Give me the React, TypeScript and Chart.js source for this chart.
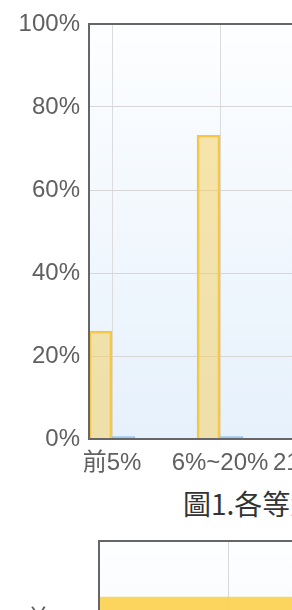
import React, { useEffect, useRef } from 'react';
import { Chart, registerables } from 'chart.js';

Chart.register(...registerables);

// ---- data ----
const categories = ['前5%', '6%~20%', '21%~50%', '51%~80%', '81%~100%'];
const yellowValues = [26, 73.2, 0.4, 0.2, 0.2];
const blueValues = [0.6, 0.6, 0.4, 0.3, 0.2];
const yTickValues = [0, 20, 40, 60, 80, 100];
const chartTitle = '圖1.各等級學生人數百分比';

const chart2Categories = ['前5%', '6%~20%', '21%~50%', '51%~80%', '81%~100%'];
const chart2Values = [62, 28, 6, 3, 1];
const chart2Ticks = [0, 20, 40, 60, 80, 100];

const FONT = "'Liberation Sans', Arial, 'Noto Sans CJK TC', sans-serif";

const framePlugin = {
  id: 'frameBg',
  beforeDraw(chart: any) {
    const { ctx, chartArea } = chart;
    if (!chartArea) return;
    const { left, top, right, bottom } = chartArea;
    const g = ctx.createLinearGradient(0, top, 0, top + 415);
    g.addColorStop(0, '#fdfeff');
    g.addColorStop(1, '#e6f1fc');
    ctx.save();
    ctx.fillStyle = g;
    ctx.fillRect(left, top, right - left, bottom - top);
    ctx.restore();
  },
  afterDatasetsDraw(chart: any) {
    const { ctx, chartArea } = chart;
    const { left, top, right, bottom } = chartArea;
    ctx.save();
    ctx.strokeStyle = '#666666';
    ctx.lineWidth = 2;
    ctx.strokeRect(left, top, right - left, bottom - top);
    ctx.restore();
  },
};

function BarChart1() {
  const ref = useRef<HTMLCanvasElement | null>(null);
  useEffect(() => {
    if (!ref.current) return;
    const chart = new Chart(ref.current, {
      type: 'bar',
      data: {
        datasets: [
          {
            label: 'A',
            data: yellowValues.map((v, i) => ({ x: i, y: v })),
            backgroundColor: 'rgba(245, 205, 90, 0.5)',
            borderColor: '#f3c844',
            borderWidth: 2,
            barThickness: 23,
          },
          {
            label: 'B',
            data: blueValues.map((v, i) => ({ x: i, y: v })),
            backgroundColor: 'rgba(150, 200, 250, 0.9)',
            borderColor: 'rgba(135, 190, 245, 1)',
            borderWidth: 1,
            barThickness: 23,
          },
        ],
      },
      options: {
        responsive: false,
        animation: false,
        layout: { padding: { top: 24, left: 0, right: 60, bottom: 0 } },
        plugins: { legend: { display: false }, tooltip: { enabled: false }, title: { display: false } },
        scales: {
          x: {
            type: 'linear',
            offset: false,
            min: -23 / 108,
            max: categories.length - 1 + 23 / 108,
            border: { display: false },
            grid: { color: '#dcdcdc', drawTicks: false, lineWidth: 1, offset: false },
            ticks: {
              stepSize: 1,
              includeBounds: false,
              autoSkip: false,
              maxRotation: 0,
              minRotation: 0,
              padding: 10,
              color: '#606060',
              font: { family: FONT, size: 24 },
              callback: (v: any) => categories[v as number] ?? '',
            },
            afterFit: (s: any) => { s.height = 40; },
          },
          y: {
            min: 0,
            max: 100,
            border: { display: false },
            grid: { color: '#d6d6d6', drawTicks: false, lineWidth: 1 },
            afterBuildTicks: (s: any) => { s.ticks = yTickValues.map((v) => ({ value: v })); },
            ticks: {
              padding: 9,
              color: '#606060',
              font: { family: FONT, size: 24 },
              callback: (v: any) => v + '%',
            },
            afterFit: (s: any) => { s.width = 89; s.paddingTop = 0; s.paddingBottom = 0; },
          },
        },
      },
      plugins: [framePlugin],
    } as any);
    return () => chart.destroy();
  }, []);
  return <canvas ref={ref} width={627} height={479} style={{ display: 'block' }} />;
}

function BarChart2() {
  const ref = useRef<HTMLCanvasElement | null>(null);
  useEffect(() => {
    if (!ref.current) return;
    const chart = new Chart(ref.current, {
      type: 'bar',
      data: {
        labels: chart2Categories,
        datasets: [
          {
            label: 'A',
            data: chart2Values,
            backgroundColor: 'rgba(251, 209, 80, 0.92)',
            borderWidth: 0,
            barThickness: 46,
          },
        ],
      },
      options: {
        indexAxis: 'y',
        responsive: false,
        animation: false,
        layout: { padding: { top: 11, left: 0, right: 60, bottom: 0 } },
        plugins: { legend: { display: false }, tooltip: { enabled: false } },
        scales: {
          x: {
            min: 0,
            max: 100,
            border: { display: false },
            grid: { color: '#d8d8d8', drawTicks: false },
            afterBuildTicks: (s: any) => { s.ticks = chart2Ticks.map((v) => ({ value: v })); },
            ticks: { color: '#606060', font: { family: FONT, size: 24 }, callback: (v: any) => v + '%' },
            afterFit: (s: any) => { s.height = 40; s.paddingLeft = 0; s.paddingRight = 0; },
          },
          y: {
            border: { display: false },
            grid: { display: false, drawTicks: false },
            ticks: { padding: 14, color: '#606060', font: { family: FONT, size: 24 } },
            afterFit: (s: any) => { s.width = 99; s.paddingTop = 0; s.paddingBottom = 0; },
          },
        },
      },
      plugins: [framePlugin],
    } as any);
    return () => chart.destroy();
  }, []);
  return <canvas ref={ref} width={804} height={841} style={{ display: 'block' }} />;
}

export default function App() {
  return (
    <div style={{ position: 'absolute', left: 0, top: 0, width: 292, height: 610, overflow: 'hidden', background: '#ffffff' }}>
      <div style={{ position: 'absolute', left: 0, top: 0 }}>
        <BarChart1 />
      </div>
      <div
        style={{
          position: 'absolute',
          left: 183,
          top: 489,
          whiteSpace: 'nowrap',
          fontFamily: "'Noto Sans CJK TC', sans-serif",
          fontSize: 28,
          lineHeight: '28px',
          color: '#333333',
        }}
      >
        {chartTitle}
      </div>
      <div style={{ position: 'absolute', left: 0, top: 530 }}>
        <BarChart2 />
      </div>
    </div>
  );
}
